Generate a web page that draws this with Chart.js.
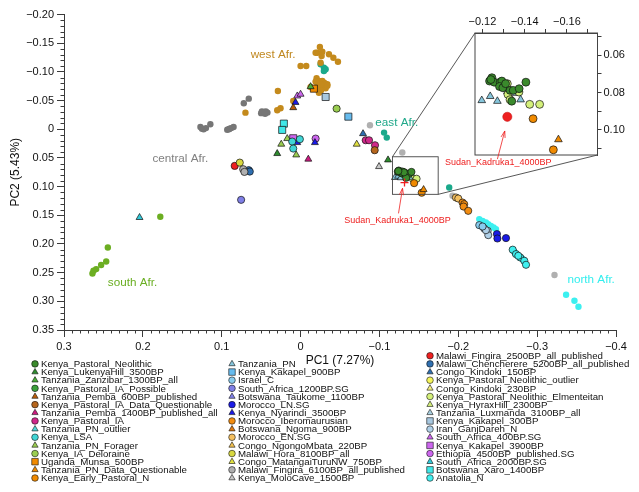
<!DOCTYPE html>
<html>
<head>
<meta charset="utf-8">
<script src="https://cdn.jsdelivr.net/npm/chart.js@4.4.1/dist/chart.umd.min.js"></script>
<style>
  html, body { margin: 0; padding: 0; background: #fff; }
  #wrap { position: relative; width: 639px; height: 492px; }
  #main { position: absolute; left: 0; top: 0; }
  #inset { position: absolute; left: 440px; top: 0; }
</style>
</head>
<body>
<div id="wrap">
  <canvas id="main" width="639" height="492"></canvas>
  <canvas id="inset" width="199" height="175"></canvas>
</div>
<script>
// 축 눈금
const pc1TickValues = [0.3, 0.2, 0.1, 0, -0.1, -0.2, -0.3, -0.4];
const pc1TickLabels = ['0.3', '0.2', '0.1', '0', '\u22120.1', '\u22120.2', '\u22120.3', '\u22120.4'];
const pc2TickValues = [-0.2, -0.15, -0.1, -0.05, 0, 0.05, 0.1, 0.15, 0.2, 0.25, 0.3, 0.35];
const pc2TickLabels = ['\u22120.20', '\u22120.15', '\u22120.10', '\u22120.05', '0', '0.05', '0.10', '0.15', '0.20', '0.25', '0.30', '0.35'];
const insetPc1TickValues = [-0.12, -0.14, -0.16];
const insetPc1TickLabels = ['\u22120.12', '\u22120.14', '\u22120.16'];
const insetPc2TickValues = [0.06, 0.08, 0.10];
const insetPc2TickLabels = ['0.06', '0.08', '0.10'];
const insetPc1Range = [-0.1745, -0.1165];
const insetPc2Range = [0.048, 0.1135];

// 범례 샘플 (PC1, PC2)
const seriesNames = [
  'Kenya_Pastoral_Neolithic', 'Kenya_LukenyaHill_3500BP', 'Tanzania_Zanzibar_1300BP_all', 'Kenya_Pastoral_IA_Possible',
  'Tanzania_Pemba_600BP_published', 'Kenya_Pastoral_IA_Data_Questionable', 'Tanzania_Pemba_1400BP_published_all',
  'Kenya_Pastoral_IA', 'Tanzania_PN_outlier', 'Kenya_LSA', 'Tanzania_PN_Forager', 'Kenya_IA_Deloraine',
  'Uganda_Munsa_500BP', 'Tanzania_PN_Data_Questionable', 'Kenya_Early_Pastoral_N',
  'Tanzania_PN', 'Kenya_Kakapel_900BP', 'Israel_C', 'South_Africa_1200BP.SG', 'Botswana_Taukome_1100BP',
  'Morocco_LN.SG', 'Kenya_Nyarindi_3500BP', 'Morocco_Iberomaurusian', 'Botswana_Ngoma_900BP', 'Morocco_EN.SG',
  'Congo_NgongoMbata_220BP', 'Malawi_Hora_8100BP_all', 'Congo_MatangaiTuruNW_750BP',
  'Malawi_Fingira_6100BP_all_published', 'Kenya_MoloCave_1500BP',
  'Malawi_Fingira_2500BP_all_published', 'Malawi_Chencherere_5200BP_all_published', 'Congo_Kindoki_150BP',
  'Kenya_Pastoral_Neolithic_outlier', 'Congo_Kindoki_230BP', 'Kenya_Pastoral_Neolithic_Elmenteitan',
  'Kenya_HyraxHill_2300BP', 'Tanzania_Luxmanda_3100BP_all', 'Kenya_Kakapel_300BP', 'Iran_GanjDareh_N',
  'South_Africa_400BP.SG', 'Kenya_Kakapel_3900BP', 'Ethiopia_4500BP_published.SG', 'South_Africa_2000BP.SG',
  'Botswana_Xaro_1400BP', 'Anatolia_N'
];
const seriesPoints = [
  [[-0.1245, 0.0720], [-0.1234, 0.0738], [-0.1256, 0.0744], [-0.1284, 0.0744], [-0.1292, 0.0738], [-0.1281, 0.0767],
   [-0.1297, 0.0774], [-0.1331, 0.0788], [-0.1346, 0.0788], [-0.1374, 0.0779], [-0.1339, 0.0846], [-0.1406, 0.0744],
   [-0.1310, 0.0752], [-0.1240, 0.0730]],
  [[0.0296, 0.0424], [-0.1109, 0.0535]],
  [[-0.0127, -0.0742]],
  [],
  [[0.0093, -0.0376]],
  [[-0.0940, 0.0366]],
  [[-0.0098, 0.0522]],
  [[-0.0826, 0.0192], [-0.0868, 0.0192], [-0.0944, 0.0279]],
  [],
  [[0.0009, 0.0174], [0.0106, 0.0215], [0.0093, 0.0337]],
  [[0.0169, 0.0163], [0.0245, 0.0261], [0.0055, 0.0448]],
  [[-0.0457, -0.0359]],
  [[-0.0169, -0.0707]],
  [[-0.1560, 0.1052]],
  [[-0.1440, 0.0940], [-0.1536, 0.1107]],
  [[-0.1197, 0.0842], [-0.1237, 0.0820], [-0.1271, 0.0846], [-0.1381, 0.0838]],
  [[-0.0606, -0.0219]],
  [[-0.2266, 0.1672], [-0.2308, 0.1696]],
  [[0.0754, 0.1231]],
  [],
  [[-0.2490, 0.1828], [-0.2496, 0.1905], [-0.2605, 0.1898]],
  [[0.0064, -0.0467], [0.0042, 0.0233], [-0.0182, 0.0233]],
  [[-0.2054, 0.1278], [-0.2075, 0.1306], [-0.2067, 0.1348], [-0.2126, 0.1423]],
  [],
  [[-0.1970, 0.1190], [-0.2000, 0.1208]],
  [],
  [[0.0771, 0.0582]],
  [[-0.0712, 0.0261]],
  [[0.0728, 0.0697], [0.0712, 0.0744]],
  [[-0.0995, 0.0651]],
  [[0.0835, 0.0639]],
  [[0.0657, 0.0714], [0.0644, 0.0738]],
  [[-0.0792, 0.0077]],
  [],
  [],
  [[-0.1318, 0.0752], [-0.1321, 0.0810], [-0.1331, 0.0838], [-0.1373, 0.0797], [-0.1424, 0.0863], [-0.1471, 0.0863]],
  [],
  [[-0.1318, 0.0794], [-0.1353, 0.0803], [-0.1373, 0.0784]],
  [[-0.0318, -0.0562]],
  [[-0.2329, 0.1731], [-0.2372, 0.1771], [-0.2380, 0.1846], [-0.2350, 0.1760]],
  [[0.0042, -0.0580], [0.0000, -0.0610]],
  [[0.0093, 0.0157]],
  [[-0.0191, 0.0163]],
  [[0.2042, 0.1539]],
  [[0.0212, -0.0098], [0.0233, 0.0012]],
  [[-0.2690, 0.2100], [-0.2732, 0.2177], [-0.2786, 0.2236], [-0.2837, 0.2293], [-0.2859, 0.2363], [-0.2761, 0.2206]]
];
const seriesColors = [
  '#3a8a2c', '#2e8b2e', '#4caf3a', '#3aa03a', '#b85c0a', '#b5651d', '#cc1a80', '#d0288a', '#50d8d8', '#40d6d6',
  '#9acd50', '#9acd50', '#f08a00', '#f08a00', '#f08a00',
  '#86c6dc', '#66bbee', '#88ccee', '#7f7fe6', '#7f7fe6', '#1a1ae6', '#1a1ae6', '#f28c10', '#e07a10', '#f5c060',
  '#f0c050', '#d8d840', '#e0e040', '#b0b0b0', '#c8c8c8',
  '#ee2020', '#2f6fb0', '#2f6fb0', '#f5f55a', '#f5f080', '#d4f07a', '#d4f07a', '#a8d0e0', '#a8c8e0', '#b0d0e8',
  '#cc66ee', '#cc66ee', '#cc66ee', '#30c8d8', '#40e8e8', '#40f0f0'
];
const seriesShapes = [
  'circle', 'triangle', 'triangle', 'circle', 'triangle', 'circle', 'triangle', 'circle', 'triangle', 'circle',
  'triangle', 'circle', 'rect', 'triangle', 'circle',
  'triangle', 'rect', 'circle', 'circle', 'triangle', 'circle', 'triangle', 'circle', 'triangle', 'circle',
  'triangle', 'circle', 'triangle', 'circle', 'triangle',
  'circle', 'circle', 'triangle', 'circle', 'triangle', 'circle', 'triangle', 'triangle', 'rect', 'circle',
  'triangle', 'rect', 'circle', 'triangle', 'rect', 'circle'
];
const legendColumnSizes = [15, 15, 16];

// 배경 집단 (테두리 없음)
const westAfr = [[-0.0245, -0.1433], [-0.0212, -0.1334], [-0.0276, -0.1351], [-0.0191, -0.1334], [-0.0360, -0.1306],
  [-0.0416, -0.1247], [-0.0474, -0.1177], [-0.0267, -0.1276], [-0.0254, -0.1160], [0.0000, -0.1102], [-0.0072, -0.1102],
  [-0.0203, -0.0888], [-0.0233, -0.0841], [-0.0296, -0.0811], [-0.0339, -0.0784], [-0.0212, -0.0754], [-0.0254, -0.0697],
  [-0.0233, -0.0637], [-0.0318, -0.0714], [-0.0127, -0.0737], [-0.0276, -0.0841], [-0.0220, -0.0800], [-0.0280, -0.0770],
  [-0.0300, -0.0740], [-0.0240, -0.0720], [-0.0260, -0.0680], [-0.0190, -0.0830], [-0.0310, -0.0800], [-0.0340, -0.0760],
  [-0.0250, -0.0780], [0.0288, -0.0667], [0.0093, -0.0493], [0.0254, -0.0366], [0.0296, -0.0331], [0.0699, -0.0289]];
const centralAfr = [[0.0657, -0.0533], [0.0720, -0.0453], [0.0440, -0.0310], [0.0470, -0.0290], [0.0500, -0.0280],
  [0.0450, -0.0270], [0.0490, -0.0310], [0.0420, -0.0290], [0.0460, -0.0300], [0.1270, -0.0040], [0.1230, 0.0000],
  [0.1200, -0.0020], [0.1250, -0.0010], [0.1144, -0.0087], [0.0930, 0.0010], [0.0880, -0.0020], [0.0850, -0.0040],
  [0.0910, 0.0000], [0.0900, -0.0010]];
const otherGray = [[-0.0880, -0.0070], [-0.1290, 0.0407], [-0.1927, 0.1160], [-0.3220, 0.2540]];
const eastAfr = [[-0.0254, -0.1132], [-0.0296, -0.1073], [-0.0318, -0.1045], [-0.0296, -0.1016], [-0.1059, 0.0059],
  [-0.1093, 0.0146], [-0.1885, 0.1017]];
const southAfr = [[0.1779, 0.1527], [0.2444, 0.2062], [0.2465, 0.2305], [0.2529, 0.2368], [0.2592, 0.2438],
  [0.2626, 0.2467], [0.2639, 0.2514]];
const northAfr = [[-0.2266, 0.1567], [-0.2308, 0.1597], [-0.2351, 0.1626], [-0.2380, 0.1654], [-0.2414, 0.1684],
  [-0.2448, 0.1713], [-0.2478, 0.1741], [-0.3367, 0.2885], [-0.3473, 0.2990], [-0.3524, 0.3094]];
const nearEast = [[-0.2710, 0.2137], [-0.2750, 0.2190], [-0.2800, 0.2250], [-0.2720, 0.2160], [-0.2820, 0.2270]];
const backgroundGroups = [westAfr, centralAfr, otherGray, eastAfr, southAfr, northAfr, nearEast];
const backgroundColors = ['#c48a1c', '#767676', '#b0b0b0', '#1aa98b', '#6cae22', '#3cf0f0', '#2a90a0'];

// 지역 라벨
const regionLabels = ['west Afr.', 'east Afr.', 'central Afr.', 'south Afr.', 'north Afr.'];
const regionAnchors = [[0.0349, -0.1302], [-0.1220, -0.0115], [0.1525, 0.0522], [0.2131, 0.2671], [-0.3685, 0.2630]];
const regionColors = ['#c08820', '#20a88a', '#808080', '#6aae22', '#33eeee'];

// Sudan_Kadruka1_4000BP 강조
const sudanName = 'Sudan_Kadruka1_4000BP';
const sudanPoint = [[-0.1318, 0.0930]];
const sudanMainLabelAt = [-0.1229, 0.1585];
const sudanMainArrow = [[-0.1242, 0.1467], [-0.1293, 0.1029]];
const sudanInsetLabelAt = [-0.1275, 0.1174];
const sudanInsetArrow = [[-0.1271, 0.1157], [-0.1306, 0.1006]];

const FONT = "'Liberation Sans', Arial, Helvetica, sans-serif";
const AX = '#3a3a3a';
Chart.defaults.font.family = FONT;
Chart.defaults.color = '#111';

function toXY(list) {
  return list.map(p => ({ x: p[0], y: p[1] }));
}

function markerRadius(shape, inset) {
  const base = { circle: 3.6, triangle: 4.0, rect: 5.0 }[shape];
  return inset ? base * 1.1 : base;
}

function buildDatasets(inset) {
  const ds = [];
  ds.push({
    label: sudanName, data: toXY(sudanPoint), order: 1,
    pointStyle: inset ? 'circle' : 'cross', pointRadius: inset ? 4.6 : 4,
    pointBackgroundColor: '#ee2020', pointBorderColor: inset ? '#c01010' : '#ee2020',
    pointBorderWidth: inset ? 0.5 : 1.3
  });
  seriesNames.forEach((name, i) => {
    ds.push({
      label: name, data: toXY(seriesPoints[i]), order: 2,
      pointStyle: seriesShapes[i], pointRadius: markerRadius(seriesShapes[i], inset),
      pointBackgroundColor: seriesColors[i], pointBorderColor: '#111', pointBorderWidth: 0.7
    });
  });
  backgroundGroups.forEach((g, i) => {
    ds.push({
      label: 'bg' + i, data: toXY(g), order: 3,
      pointStyle: 'circle', pointRadius: 3.2,
      pointBackgroundColor: backgroundColors[i], pointBorderWidth: 0
    });
  });
  return ds;
}

function pickLabel(values, labels, v) {
  const i = values.findIndex(t => Math.abs(t - v) < 1e-6);
  return i < 0 ? '' : labels[i];
}

function drawMarker(ctx, shape, x, y, r, fill) {
  ctx.beginPath();
  if (shape === 'circle') {
    ctx.arc(x, y, r, 0, Math.PI * 2);
  } else if (shape === 'triangle') {
    ctx.moveTo(x, y - r);
    ctx.lineTo(x + r * 0.866, y + r * 0.5);
    ctx.lineTo(x - r * 0.866, y + r * 0.5);
    ctx.closePath();
  } else {
    const s = r * Math.SQRT1_2;
    ctx.rect(x - s, y - s, 2 * s, 2 * s);
  }
  ctx.fillStyle = fill;
  ctx.fill();
  ctx.lineWidth = 0.6;
  ctx.strokeStyle = '#111';
  ctx.stroke();
}

function drawArrow(ctx, x0, y0, x1, y1) {
  const ang = Math.atan2(y1 - y0, x1 - x0);
  const len = 7, spread = 0.3;
  ctx.beginPath();
  ctx.moveTo(x0, y0);
  ctx.lineTo(x1, y1);
  ctx.moveTo(x1 - len * Math.cos(ang - spread), y1 - len * Math.sin(ang - spread));
  ctx.lineTo(x1, y1);
  ctx.lineTo(x1 - len * Math.cos(ang + spread), y1 - len * Math.sin(ang + spread));
  ctx.stroke();
}

// 인셋 (확대 영역)
const insetDecor = {
  id: 'insetDecor',
  afterDraw(chart) {
    const { ctx, chartArea: ca, scales: { x, y } } = chart;
    ctx.save();
    ctx.strokeStyle = '#444';
    ctx.lineWidth = 1;
    ctx.strokeRect(ca.left, ca.top, ca.right - ca.left, ca.bottom - ca.top);
    ctx.strokeStyle = '#ee2020';
    ctx.lineWidth = 0.8;
    drawArrow(ctx, x.getPixelForValue(sudanInsetArrow[0][0]), y.getPixelForValue(sudanInsetArrow[0][1]),
      x.getPixelForValue(sudanInsetArrow[1][0]), y.getPixelForValue(sudanInsetArrow[1][1]));
    ctx.fillStyle = '#ee2020';
    ctx.font = '9px ' + FONT;
    ctx.textAlign = 'center';
    ctx.textBaseline = 'middle';
    ctx.fillText(sudanName, x.getPixelForValue(sudanInsetLabelAt[0]), y.getPixelForValue(sudanInsetLabelAt[1]));
    ctx.restore();
  }
};

const insetCanvas = document.getElementById('inset');
const insetChart = new Chart(insetCanvas, {
  type: 'scatter',
  data: { datasets: buildDatasets(true) },
  options: {
    responsive: false, animation: false, events: [],
    layout: { padding: { left: 35, right: 0, top: 0, bottom: 20 } },
    plugins: { legend: { display: false }, tooltip: { enabled: false } },
    scales: {
      x: {
        type: 'linear', position: 'top', min: insetPc1Range[0], max: insetPc1Range[1], reverse: true,
        afterFit: s => { s.height = 33; },
        border: { display: true, color: '#444', width: 1 },
        grid: { drawOnChartArea: false, tickLength: 4, tickColor: AX },
        ticks: {
          stepSize: 0.01, autoSkip: false, includeBounds: false, maxRotation: 0, padding: 0, font: { size: 11 },
          callback: v => pickLabel(insetPc1TickValues, insetPc1TickLabels, v)
        }
      },
      y: {
        type: 'linear', position: 'right', min: insetPc2Range[0], max: insetPc2Range[1], reverse: true,
        afterFit: s => { s.width = 41.5; },
        border: { display: true, color: '#444', width: 1 },
        grid: { drawOnChartArea: false, tickLength: 4, tickColor: AX },
        ticks: {
          stepSize: 0.01, autoSkip: false, includeBounds: false, padding: 2, font: { size: 11 },
          callback: v => pickLabel(insetPc2TickValues, insetPc2TickLabels, v)
        }
      }
    }
  },
  plugins: [insetDecor]
});

// 메인 장식: 보조 눈금, 확대 박스, 라벨, 범례
const mainDecor = {
  id: 'mainDecor',
  afterDraw(chart) {
    const { ctx, chartArea: ca, scales: { x, y } } = chart;
    ctx.save();

    // 보조 눈금
    ctx.strokeStyle = AX;
    ctx.lineWidth = 1;
    ctx.beginPath();
    for (let k = -40; k <= 30; k++) {
      if (k % 10 === 0) continue;
      const px = Math.round(x.getPixelForValue(k / 100)) + 0.5;
      ctx.moveTo(px, ca.bottom);
      ctx.lineTo(px, ca.bottom + 3.5);
    }
    for (let k = -20; k <= 35; k++) {
      if (k % 5 === 0) continue;
      const py = Math.round(y.getPixelForValue(k / 100)) + 0.5;
      ctx.moveTo(ca.left, py);
      ctx.lineTo(ca.left - 3.5, py);
    }
    ctx.stroke();

    // 확대 박스와 연결선
    const bx1 = x.getPixelForValue(insetPc1Range[1]);
    const bx2 = x.getPixelForValue(insetPc1Range[0]);
    const by1 = y.getPixelForValue(insetPc2Range[0]);
    const by2 = y.getPixelForValue(insetPc2Range[1]);
    const ia = insetChart.chartArea;
    const offX = insetCanvas.offsetLeft, offY = insetCanvas.offsetTop;
    ctx.strokeStyle = '#444';
    ctx.lineWidth = 0.9;
    ctx.strokeRect(bx1, by1, bx2 - bx1, by2 - by1);
    ctx.beginPath();
    ctx.moveTo(bx1, by1);
    ctx.lineTo(offX + ia.left, offY + ia.top);
    ctx.moveTo(bx2, by2);
    ctx.lineTo(offX + ia.right, offY + ia.bottom);
    ctx.stroke();

    // 지역 라벨
    ctx.font = '11.7px ' + FONT;
    ctx.textAlign = 'center';
    ctx.textBaseline = 'middle';
    regionLabels.forEach((t, i) => {
      ctx.fillStyle = regionColors[i];
      ctx.fillText(t, x.getPixelForValue(regionAnchors[i][0]), y.getPixelForValue(regionAnchors[i][1]));
    });

    // Sudan 라벨
    ctx.strokeStyle = '#ee2020';
    ctx.lineWidth = 0.8;
    drawArrow(ctx, x.getPixelForValue(sudanMainArrow[0][0]), y.getPixelForValue(sudanMainArrow[0][1]),
      x.getPixelForValue(sudanMainArrow[1][0]), y.getPixelForValue(sudanMainArrow[1][1]));
    ctx.fillStyle = '#ee2020';
    ctx.font = '9px ' + FONT;
    ctx.fillText(sudanName, x.getPixelForValue(sudanMainLabelAt[0]), y.getPixelForValue(sudanMainLabelAt[1]));

    // 범례 (3열, 아래 정렬)
    const markerX = [35, 232, 430];
    const textX = [41, 238, 436];
    const lastRowY = 478, rowGap = 8.15;
    ctx.font = '9.7px ' + FONT;
    ctx.textAlign = 'left';
    let idx = 0;
    legendColumnSizes.forEach((n, c) => {
      for (let r = 0; r < n; r++, idx++) {
        const ly = lastRowY - (n - 1 - r) * rowGap;
        const shape = seriesShapes[idx];
        const rr = { circle: 3.3, triangle: 3.6, rect: 4.6 }[shape];
        drawMarker(ctx, shape, markerX[c], ly, rr, seriesColors[idx]);
        ctx.fillStyle = '#111';
        ctx.fillText(seriesNames[idx], textX[c], ly + 0.5);
      }
    });
    ctx.restore();
  }
};

const mainChart = new Chart(document.getElementById('main'), {
  type: 'scatter',
  data: { datasets: buildDatasets(false) },
  options: {
    responsive: false, animation: false, events: [],
    layout: { padding: { left: 0, right: 23, top: 14.5, bottom: 0 } },
    plugins: { legend: { display: false }, tooltip: { enabled: false } },
    scales: {
      x: {
        type: 'linear', min: -0.4, max: 0.3, reverse: true,
        afterFit: s => { s.height = 492 - 330; },
        border: { display: true, color: AX, width: 1 },
        grid: { drawOnChartArea: false, tickLength: 7, tickColor: AX },
        ticks: {
          stepSize: 0.1, autoSkip: false, maxRotation: 0, padding: 3, font: { size: 11 },
          callback: v => pickLabel(pc1TickValues, pc1TickLabels, v)
        },
        title: { display: true, text: 'PC1 (7.27%)', font: { size: 12 }, padding: { top: 0, bottom: 124 } }
      },
      y: {
        type: 'linear', min: -0.2, max: 0.35, reverse: true,
        afterFit: s => { s.width = 64; },
        border: { display: true, color: AX, width: 1 },
        grid: { drawOnChartArea: false, tickLength: 7, tickColor: AX },
        ticks: {
          stepSize: 0.05, autoSkip: false, padding: 3, font: { size: 11 },
          callback: v => pickLabel(pc2TickValues, pc2TickLabels, v)
        },
        title: { display: true, text: 'PC2 (5.43%)', font: { size: 12 }, padding: { top: 8, bottom: 0 } }
      }
    }
  },
  plugins: [mainDecor]
});
</script>
</body>
</html>
